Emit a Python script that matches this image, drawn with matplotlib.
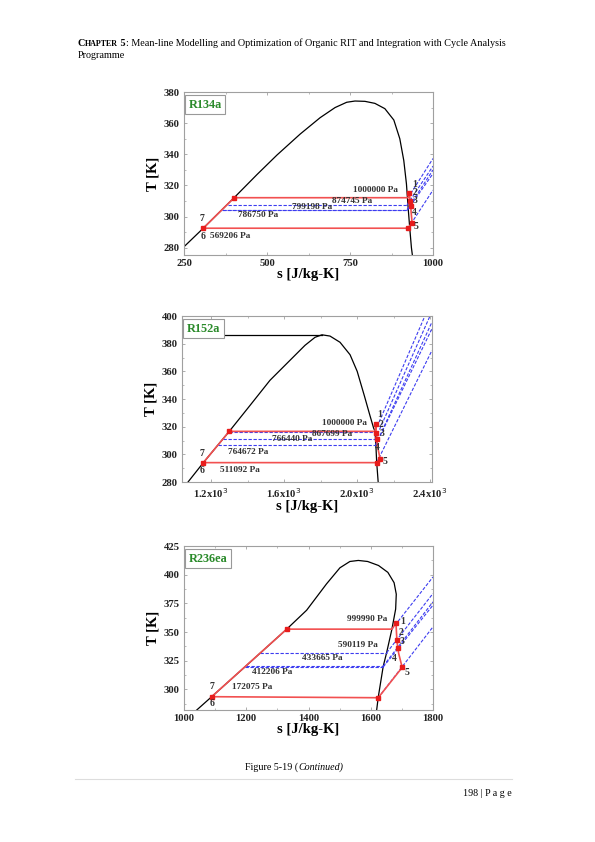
import numpy as np
import matplotlib.pyplot as plt
from matplotlib.ticker import AutoMinorLocator

plt.rcParams['font.family'] = ['Liberation Serif', 'DejaVu Serif']

# ---------------- R134a ----------------
r134a_dome_s = [240, 250, 308, 401, 470, 530, 600, 660, 705, 740, 765, 795, 825, 855, 882, 900, 912, 920, 925, 930, 935, 938]
r134a_dome_T = [278.5, 280.6, 292.5, 312.1, 327, 339.5, 353, 363.5, 370, 373.4, 374.2, 374.0, 372.7, 369.3, 362, 350, 336, 321, 306, 292.5, 280, 275]
r134a_cyc_s = [308, 401, 925, 929, 931, 933, 934, 937, 925, 308]
r134a_cyc_T = [292.5, 312.1, 312.1, 315.3, 310.2, 306.8, 303.0, 296.1, 292.5, 292.5]
r134a_mark_s = [308, 401, 929, 931, 933, 937, 925]
r134a_mark_T = [292.5, 312.1, 315.3, 310.2, 306.8, 296.1, 292.5]
r134a_isoT = [307.6, 304.5, 303.9]
r134a_iso_left = [382, 367, 364]
r134a_iso_right = [922, 922, 922]
r134a_diag = [(925, 312.1, 1000, 337.3), (922, 307.6, 1000, 332.4), (922, 304.5, 1000, 329.9),
              (922, 303.9, 1000, 327.6), (925, 292.5, 1000, 317.0)]
r134a_press = [(895, 317.1, '1000000 Pa', 'right'), (816, 309.8, '874745 Pa', 'right'),
               (696, 306.4, '799198 Pa', 'right'), (413, 300.8, '786750 Pa', 'left'),
               (328, 287.5, '569206 Pa', 'left')]
r134a_nums = [(944, 320.6, '1'), (946, 315.6, '2'), (946, 310.4, '3'), (944, 302.3, '4'),
              (949, 293.3, '5'), (305, 298.6, '7'), (306, 287.3, '6')]

# ---------------- R152a ----------------
r152a_dome_s = [1060, 1073, 1157, 1299, 1413, 1522, 1632, 1714, 1769, 1807, 1851, 1906, 1961, 2000, 2040, 2070, 2090, 2098, 2103, 2107, 2115, 2118]
r152a_dome_T = [277, 280, 294, 316.6, 335.4, 353.5, 368, 378.8, 384.6, 386.4, 385.5, 381, 372, 360, 342, 328, 319, 316.6, 305, 294, 280, 277]
r152a_crit_s = [1040, 1807]
r152a_crit_T = [386.4, 386.4]
r152a_cyc_s = [1157, 1299, 2098, 2103, 2103, 2108, 2110, 2125, 2107, 1157]
r152a_cyc_T = [294, 316.6, 316.6, 321.7, 315.7, 311.3, 307.0, 296.9, 294, 294]
r152a_mark_s = [1157, 1299, 2103, 2103, 2108, 2125, 2107]
r152a_mark_T = [294, 316.6, 321.7, 315.7, 311.3, 296.9, 294]
r152a_isoT = [316.1, 311.3, 307.0]
r152a_iso_left = [1296, 1265, 1237]
r152a_iso_right = [2098, 2100, 2102]
r152a_diag = [(2098, 316.6, 2371, 400), (2100, 311.3, 2399, 400), (2102, 307.0, 2410, 395.7),
              (2102, 306.9, 2410, 390.9), (2107, 294, 2410, 375.2)]
r152a_press = [(2055, 322.6, '1000000 Pa', 'right'), (1971, 315.0, '867699 Pa', 'right'),
               (1752, 310.8, '766440 Pa', 'right'), (1292, 301.7, '764672 Pa', 'left'),
               (1248, 288.9, '511092 Pa', 'left')]
r152a_nums = [(2123, 328.8, '1'), (2128, 321.5, '2'), (2138, 314.8, '3'), (2112, 305.0, '4'),
              (2152, 295.0, '5'), (1150, 300.8, '7'), (1150, 288.2, '6')]

# ---------------- R236ea ----------------
r236ea_dome_s = [1030, 1041, 1089, 1197, 1244, 1330, 1394, 1458, 1501, 1533, 1560, 1590, 1625, 1655, 1675, 1682, 1680, 1668, 1651, 1640, 1624, 1619, 1617]
r236ea_dome_T = [279.5, 282, 293.6, 319.9, 331.4, 352.5, 369, 392, 406, 411.5, 412.4, 411.5, 408, 402, 393, 383, 370, 352.5, 332, 320, 293, 282, 279]
r236ea_cyc_s = [1089, 1330, 1668, 1681, 1684, 1687, 1690, 1701, 1624, 1089]
r236ea_cyc_T = [293.6, 352.5, 352.5, 358.0, 342.9, 335.7, 331.0, 319.1, 292.7, 293.6]
r236ea_mark_s = [1089, 1330, 1681, 1684, 1687, 1701, 1624]
r236ea_mark_T = [293.6, 352.5, 358.0, 342.9, 335.7, 319.1, 292.7]
r236ea_isoT = [331.9, 320.3, 319.5]
r236ea_iso_left = [1244, 1199, 1196]
r236ea_iso_right = [1651, 1640, 1640]
r236ea_diag = [(1668, 352.5, 1800, 398.0), (1651, 331.9, 1800, 383.6), (1640, 320.3, 1800, 376.3),
               (1640, 319.5, 1800, 373.4), (1624, 292.7, 1800, 354.5)]
r236ea_press = [(1655, 361.0, '999990 Pa', 'right'), (1623, 338.6, '590119 Pa', 'right'),
                (1511, 327.2, '433665 Pa', 'right'), (1219, 315.0, '412206 Pa', 'left'),
                (1154, 302.0, '172075 Pa', 'left')]
r236ea_nums = [(1703, 358.8, '1'), (1696, 349.3, '2'), (1702, 341.4, '3'), (1677, 327.0, '4'),
               (1718, 315.0, '5'), (1089, 302.8, '7'), (1089, 287.5, '6')]

RED = '#f25050'
BLUE = '#3c3cf0'
FRAME = '#a0a0a0'

fig = plt.figure(figsize=(5.95, 8.42), dpi=100)
W, H = 595, 842


def px_rect(l, t, r, b):
    return [l / W, 1 - b / H, (r - l) / W, (b - t) / H]


def panel(rect, xlim, ylim, xticks, xlabels, yticks, name,
          dome_s, dome_T, cyc_s, cyc_T, mark_s, mark_T,
          isoT, iso_left, iso_right, diag, press, nums):
    ax = fig.add_axes(rect)
    ax.plot(dome_s, dome_T, color='black', lw=0.9)
    for T, s0, s1 in zip(isoT, iso_left, iso_right):
        ax.plot([s0, s1], [T, T], color=BLUE, lw=0.8, ls=(0, (3, 1.5)))
    for s0, T0, s1, T1 in diag:
        ax.plot([s0, s1], [T0, T1], color=BLUE, lw=0.8, ls=(0, (3, 1.5)))
    ax.plot(cyc_s, cyc_T, color=RED, lw=1.2)
    ax.plot(mark_s, mark_T, ls='none', marker='s', ms=2.4, color='#e81c1c')
    for s, T, txt, ha in press:
        ax.text(s, T, txt, ha=ha, va='center', fontsize=6.7, fontweight='bold', color='#333333')
    for s, T, txt in nums:
        ax.text(s, T, txt, ha='center', va='center', fontsize=7, fontweight='bold', color='#333333')
    ax.set_xlim(xlim)
    ax.set_ylim(ylim)
    ax.set_xticks(xticks)
    ax.set_xticklabels(xlabels)
    ax.set_yticks(yticks)
    ax.xaxis.set_minor_locator(AutoMinorLocator(2))
    ax.yaxis.set_minor_locator(AutoMinorLocator(2))
    ax.tick_params(which='both', direction='in', top=True, right=True, color=FRAME,
                   labelsize=7.7, labelcolor='#222222', pad=3)
    ax.tick_params(which='major', length=2.5, width=0.6)
    ax.tick_params(which='minor', length=1.5, width=0.5)
    for lab in ax.get_xticklabels() + ax.get_yticklabels():
        lab.set_fontweight('bold')
    for sp in ax.spines.values():
        sp.set_color(FRAME)
        sp.set_linewidth(0.8)
    ax.set_xlabel('s [J/kg-K]', fontsize=10.5, fontweight='bold', labelpad=0)
    ax.set_ylabel('T [K]', fontsize=10.5, fontweight='bold', labelpad=3)
    ax.text(0.018, 0.96, name, transform=ax.transAxes, ha='left', va='top',
            fontsize=8.8, fontweight='bold', color='#2a8a2a',
            bbox=dict(boxstyle='square,pad=0.3', fc='white', ec='#999999', lw=0.8))
    return ax


panel(px_rect(184, 92, 433, 255), (250, 1000), (275.3, 380), [250, 500, 750, 1000],
      ['250', '500', '750', '1000'], [280, 300, 320, 340, 360, 380], 'R134a',
      r134a_dome_s, r134a_dome_T, r134a_cyc_s, r134a_cyc_T, r134a_mark_s, r134a_mark_T,
      r134a_isoT, r134a_iso_left, r134a_iso_right, r134a_diag, r134a_press, r134a_nums)

ax2 = panel(px_rect(182, 316, 432, 482), (1040, 2410), (280, 400), [1200, 1600, 2000, 2400],
            [r'1.2x10$^3$', r'1.6x10$^3$', r'2.0x10$^3$', r'2.4x10$^3$'],
            [280, 300, 320, 340, 360, 380, 400], 'R152a',
            r152a_dome_s, r152a_dome_T, r152a_cyc_s, r152a_cyc_T, r152a_mark_s, r152a_mark_T,
            r152a_isoT, r152a_iso_left, r152a_iso_right, r152a_diag, r152a_press, r152a_nums)
ax2.plot(r152a_crit_s, r152a_crit_T, color='black', lw=0.9)

panel(px_rect(184, 546, 433, 710), (1000, 1800), (282, 425), [1000, 1200, 1400, 1600, 1800],
      ['1000', '1200', '1400', '1600', '1800'], [300, 325, 350, 375, 400, 425], 'R236ea',
      r236ea_dome_s, r236ea_dome_T, r236ea_cyc_s, r236ea_cyc_T, r236ea_mark_s, r236ea_mark_T,
      r236ea_isoT, r236ea_iso_left, r236ea_iso_right, r236ea_diag, r236ea_press, r236ea_nums)

# page text
fig.canvas.draw()
rend = fig.canvas.get_renderer()
x = 78 / W
y = 1 - 46 / H
for txt, fs, fw in [('C', 7.3, 'bold'), ('HAPTER', 5.8, 'bold'), (' 5', 7.3, 'bold'),
                    (': Mean-line Modelling and Optimization of Organic RIT and Integration with Cycle Analysis', 7.3, 'normal')]:
    t = fig.text(x, y, txt, fontsize=fs, fontweight=fw, ha='left', va='baseline')
    bb = t.get_window_extent(rend)
    x = bb.x1 / fig.bbox.width
fig.text(78 / W, 1 - 58 / H, 'Programme', fontsize=7.3, ha='left', va='baseline')
fig.text(298 / W, 1 - 767 / H, 'Figure 5-19 (', fontsize=7.2, ha='right', va='center')
fig.text(298 / W, 1 - 767 / H, 'Continued)', fontsize=7.2, ha='left', va='center', style='italic')
fig.add_artist(plt.Line2D([75 / W, 512 / W], [1 - 779 / H, 1 - 779 / H], color='#dddddd', lw=0.8))
fig.text(512 / W, 1 - 793 / H, '198 | P a g e', fontsize=7.2, ha='right', va='center')

fig.savefig('out.png', dpi=100)
